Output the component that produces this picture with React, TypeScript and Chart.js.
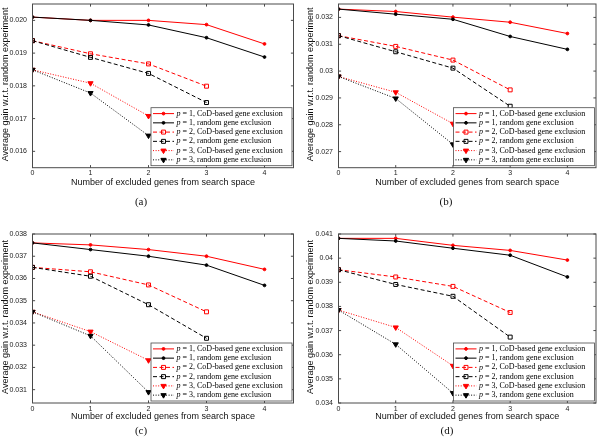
import React, { useEffect, useRef } from 'react';
import { Chart, registerables } from 'chart.js';

Chart.register(...registerables);

// ---------------- data ----------------
const xValues = [0, 1, 2, 3, 4];
const xTickValues = [0, 1, 2, 3, 4];
const xTickLabels = ['0', '1', '2', '3', '4'];
const xTitle = 'Number of excluded genes from search space';
const yTitle = 'Average gain w.r.t. random experiment';
const legendLabels = [
  'p = 1, CoD-based gene exclusion',
  'p = 1, random gene exclusion',
  'p = 2, CoD-based gene exclusion',
  'p = 2, random gene exclusion',
  'p = 3, CoD-based gene exclusion',
  'p = 3, random gene exclusion',
];
const captions = ['(a)', '(b)', '(c)', '(d)'];

// panel (a)
const aP1Cod = [0.0201, 0.0200, 0.0200, 0.01987, 0.01928];
const aP1Rand = [0.0201, 0.0200, 0.01986, 0.01947, 0.01888];
const aP2Cod = [0.01938, 0.01898, 0.01867, 0.01799];
const aP2Rand = [0.01938, 0.01887, 0.01838, 0.01749];
const aP3Cod = [0.01849, 0.01808, 0.01708];
const aP3Rand = [0.01849, 0.01778, 0.01648];
const aYTicks = [0.016, 0.017, 0.018, 0.019, 0.020];
const aYLabels = ['0.016', '0.017', '0.018', '0.019', '0.020'];

// panel (b)
const bP1Cod = [0.03231, 0.03222, 0.03201, 0.03182, 0.0314];
const bP1Rand = [0.03231, 0.03212, 0.03193, 0.03129, 0.03081];
const bP2Cod = [0.03132, 0.03092, 0.03041, 0.0293];
const bP2Rand = [0.03132, 0.03072, 0.03011, 0.02869];
const bP3Cod = [0.0298, 0.02921, 0.02804];
const bP3Rand = [0.0298, 0.02898, 0.02727];
const bYTicks = [0.027, 0.028, 0.029, 0.030, 0.031, 0.032];
const bYLabels = ['0.027', '0.028', '0.029', '0.03', '0.031', '0.032'];

// panel (c)
const cP1Cod = [0.0376, 0.03751, 0.0373, 0.0370, 0.03641];
const cP1Rand = [0.0376, 0.0373, 0.0370, 0.0366, 0.03569];
const cP2Cod = [0.0365, 0.0363, 0.03571, 0.0345];
const cP2Rand = [0.0365, 0.0361, 0.03482, 0.03331];
const cP3Cod = [0.0345, 0.03361, 0.03232];
const cP3Rand = [0.0345, 0.03342, 0.03089];
const cYTicks = [0.031, 0.032, 0.033, 0.034, 0.035, 0.036, 0.037, 0.038];
const cYLabels = ['0.031', '0.032', '0.033', '0.034', '0.035', '0.036', '0.037', '0.038'];

// panel (d)
const dP1Cod = [0.04082, 0.04082, 0.04053, 0.04032, 0.03992];
const dP1Rand = [0.04082, 0.04071, 0.04041, 0.04012, 0.03922];
const dP2Cod = [0.03952, 0.03922, 0.03883, 0.03775];
const dP2Rand = [0.03952, 0.03891, 0.03842, 0.03673];
const dP3Cod = [0.03785, 0.03713, 0.03554];
const dP3Rand = [0.03785, 0.03643, 0.03441];
const dYTicks = [0.034, 0.035, 0.036, 0.037, 0.038, 0.039, 0.040, 0.041];
const dYLabels = ['0.034', '0.035', '0.036', '0.037', '0.038', '0.039', '0.04', '0.041'];

// ---------------- styles / layout ----------------
const SANS = "'Liberation Sans', Arial, Helvetica, sans-serif";
const SERIF = "'Liberation Serif', 'Times New Roman', serif";

type SeriesStyle = {
  color: string;
  dash: number[];
  pointStyle: string;
  radius: number;
  filled: boolean;
  rotation: number;
};

const seriesStyles: SeriesStyle[] = [
  { color: '#ff0000', dash: [], pointStyle: 'circle', radius: 1.4, filled: true, rotation: 0 },
  { color: '#000000', dash: [], pointStyle: 'circle', radius: 1.4, filled: true, rotation: 0 },
  { color: '#ff0000', dash: [4, 2.5], pointStyle: 'rect', radius: 2.8, filled: false, rotation: 0 },
  { color: '#000000', dash: [4, 2.5], pointStyle: 'rect', radius: 2.8, filled: false, rotation: 0 },
  { color: '#ff0000', dash: [1, 1.6], pointStyle: 'triangle', radius: 3, filled: true, rotation: 180 },
  { color: '#000000', dash: [1, 1.6], pointStyle: 'triangle', radius: 3, filled: true, rotation: 180 },
];

type PanelCfg = {
  series: number[][];
  yMin: number;
  yMax: number;
  yTicks: number[];
  yLabels: string[];
  caption: string;
  left: number;
  top: number;
  width: number;
  height: number;
  pad: { left: number; top: number; right: number; bottom: number };
  yWidth: number;
  xHeight: number;
  yTitleX: number;
  xTitleOff: number;
  capX: number;
  capY: number;
};

const panels: PanelCfg[] = [
  {
    series: [aP1Cod, aP1Rand, aP2Cod, aP2Rand, aP3Cod, aP3Rand],
    yMin: 0.0155, yMax: 0.0205, yTicks: aYTicks, yLabels: aYLabels, caption: captions[0],
    left: 0, top: 0, width: 300, height: 220,
    pad: { left: 0, top: 0.5, right: 6.5, bottom: 0 },
    yWidth: 32.5, xHeight: 52.3, yTitleX: 5.5, xTitleOff: 15.3, capX: 141, capY: 201,
  },
  {
    series: [bP1Cod, bP1Rand, bP2Cod, bP2Rand, bP3Cod, bP3Rand],
    yMin: 0.0264, yMax: 0.0325, yTicks: bYTicks, yLabels: bYLabels, caption: captions[1],
    left: 300, top: 0, width: 300, height: 220,
    pad: { left: 0, top: 0.5, right: 0.5, bottom: 0 },
    yWidth: 38.5, xHeight: 52.3, yTitleX: 11, xTitleOff: 15.3, capX: 446, capY: 201,
  },
  {
    series: [cP1Cod, cP1Rand, cP2Cod, cP2Rand, cP3Cod, cP3Rand],
    yMin: 0.0304, yMax: 0.038, yTicks: cYTicks, yLabels: cYLabels, caption: captions[2],
    left: 0, top: 220, width: 300, height: 221,
    pad: { left: 0, top: 14, right: 6.5, bottom: 0 },
    yWidth: 32.5, xHeight: 38, yTitleX: 5.5, xTitleOff: 14, capX: 141, capY: 430,
  },
  {
    series: [dP1Cod, dP1Rand, dP2Cod, dP2Rand, dP3Cod, dP3Rand],
    yMin: 0.034, yMax: 0.041, yTicks: dYTicks, yLabels: dYLabels, caption: captions[3],
    left: 300, top: 220, width: 300, height: 221,
    pad: { left: 0, top: 14, right: 0.5, bottom: 0 },
    yWidth: 38.5, xHeight: 38, yTitleX: 11, xTitleOff: 14, capX: 447, capY: 430,
  },
];

// ---------------- plugins ----------------
function drawMarker(ctx: CanvasRenderingContext2D, st: SeriesStyle, x: number, y: number) {
  ctx.save();
  ctx.setLineDash([]);
  ctx.lineWidth = 1;
  ctx.strokeStyle = st.color;
  ctx.fillStyle = st.color;
  ctx.beginPath();
  if (st.pointStyle === 'circle') {
    ctx.arc(x, y, st.radius, 0, Math.PI * 2);
  } else if (st.pointStyle === 'rect') {
    const s = Math.SQRT1_2 * st.radius;
    ctx.rect(x - s, y - s, 2 * s, 2 * s);
  } else {
    const r = st.radius;
    ctx.moveTo(x, y + r);
    ctx.lineTo(x - r * 0.866, y - r * 0.5);
    ctx.lineTo(x + r * 0.866, y - r * 0.5);
    ctx.closePath();
  }
  if (st.filled) ctx.fill();
  ctx.stroke();
  ctx.restore();
}

const framePlugin = {
  id: 'matlabFrame',
  afterDatasetsDraw(chart: any) {
    const { ctx, chartArea } = chart;
    const cfg: PanelCfg = chart.options.plugins.matlabFrame.cfg;
    const { left, right, top, bottom } = chartArea;
    const xs = chart.scales.x;
    const ys = chart.scales.y;
    const tl = 2.6;
    ctx.save();
    ctx.setLineDash([]);
    ctx.strokeStyle = '#4a4a4a';
    ctx.lineWidth = 1;
    ctx.strokeRect(left, top, right - left, bottom - top);
    ctx.beginPath();
    xs.ticks.forEach((t: any) => {
      const px = xs.getPixelForValue(t.value);
      ctx.moveTo(px, bottom);
      ctx.lineTo(px, bottom - tl);
      ctx.moveTo(px, top);
      ctx.lineTo(px, top + tl);
    });
    ys.ticks.forEach((t: any) => {
      const py = ys.getPixelForValue(t.value);
      ctx.moveTo(left, py);
      ctx.lineTo(left + tl, py);
      ctx.moveTo(right, py);
      ctx.lineTo(right - tl, py);
    });
    ctx.stroke();

    // tick labels
    ctx.fillStyle = '#222';
    ctx.font = `7px ${SANS}`;
    ctx.textBaseline = 'middle';
    ctx.textAlign = 'center';
    xTickValues.forEach((v, i) => {
      ctx.fillText(xTickLabels[i], xs.getPixelForValue(v), bottom + 5.6);
    });
    ctx.textAlign = 'right';
    cfg.yTicks.forEach((v, i) => {
      ctx.fillText(cfg.yLabels[i], left - 5.5, ys.getPixelForValue(v));
    });

    // axis titles
    ctx.fillStyle = '#111';
    ctx.font = `9px ${SANS}`;
    ctx.textAlign = 'center';
    ctx.fillText(xTitle, (left + right) / 2, bottom + cfg.xTitleOff);
    ctx.save();
    ctx.translate(cfg.yTitleX, (top + bottom) / 2 - 1.5);
    ctx.rotate(-Math.PI / 2);
    ctx.fillText(yTitle, 0, 0);
    ctx.restore();
    ctx.restore();
  },
};

const legendPlugin = {
  id: 'boxLegend',
  afterDraw(chart: any) {
    const { ctx, chartArea } = chart;
    const w = 141;
    const h = 58;
    const x0 = chartArea.right - 1.5 - w;
    const y0 = chartArea.bottom - 2 - h;
    ctx.save();
    ctx.fillStyle = '#ffffff';
    ctx.fillRect(x0, y0, w, h);
    ctx.strokeStyle = '#4a4a4a';
    ctx.lineWidth = 0.8;
    ctx.setLineDash([]);
    ctx.strokeRect(x0, y0, w, h);
    legendLabels.forEach((label, i) => {
      const st = seriesStyles[i];
      const cy = y0 + 5.9 + i * 9.25;
      ctx.save();
      ctx.strokeStyle = st.color;
      ctx.lineWidth = 1;
      ctx.setLineDash(st.dash);
      ctx.beginPath();
      ctx.moveTo(x0 + 2, cy);
      ctx.lineTo(x0 + 23, cy);
      ctx.stroke();
      ctx.restore();
      drawMarker(ctx, st, x0 + 12.5, cy);
      ctx.fillStyle = '#000';
      ctx.textBaseline = 'middle';
      ctx.textAlign = 'left';
      ctx.font = `italic 8px ${SERIF}`;
      const first = label.charAt(0);
      ctx.fillText(first, x0 + 25.5, cy);
      const fw = ctx.measureText(first).width;
      ctx.font = `8px ${SERIF}`;
      ctx.fillText(label.slice(1), x0 + 25.5 + fw, cy);
    });
    ctx.restore();
  },
};

function zeroPad(s: any) {
  s.paddingTop = 0;
  s.paddingBottom = 0;
  s.paddingLeft = 0;
  s.paddingRight = 0;
}

// ---------------- components ----------------
function Panel({ cfg }: { cfg: PanelCfg }) {
  const ref = useRef<HTMLCanvasElement | null>(null);
  useEffect(() => {
    if (!ref.current) return;
    const datasets = cfg.series.map((vals, i) => {
      const st = seriesStyles[i];
      return {
        label: legendLabels[i],
        data: vals.map((y, j) => ({ x: xValues[j], y })),
        borderColor: st.color,
        backgroundColor: st.color,
        borderWidth: 1,
        borderDash: st.dash,
        pointStyle: st.pointStyle,
        pointRadius: st.radius,
        pointHoverRadius: st.radius,
        pointBackgroundColor: st.filled ? st.color : 'rgba(255,255,255,0)',
        pointBorderColor: st.color,
        pointBorderWidth: 1,
        pointRotation: st.rotation,
        tension: 0,
        fill: false,
        order: 6 - i,
      };
    });
    const chart = new Chart(ref.current, {
      type: 'line',
      data: { datasets } as any,
      options: {
        responsive: false,
        maintainAspectRatio: false,
        animation: false,
        devicePixelRatio: 1,
        layout: { padding: cfg.pad },
        plugins: {
          legend: { display: false },
          tooltip: { enabled: false },
          matlabFrame: { cfg },
        },
        scales: {
          x: {
            type: 'linear',
            min: 0,
            max: 4.5,
            grid: { display: false },
            border: { display: false },
            afterBuildTicks: (s: any) => {
              s.ticks = xTickValues.map((v) => ({ value: v }));
            },
            afterFit: (s: any) => {
              s.height = cfg.xHeight;
              zeroPad(s);
            },
            ticks: { display: false },
            title: { display: false },
          },
          y: {
            type: 'linear',
            min: cfg.yMin,
            max: cfg.yMax,
            grid: { display: false },
            border: { display: false },
            afterBuildTicks: (s: any) => {
              s.ticks = cfg.yTicks.map((v) => ({ value: v }));
            },
            afterFit: (s: any) => {
              s.width = cfg.yWidth;
              zeroPad(s);
            },
            ticks: { display: false },
            title: { display: false },
          },
        },
      } as any,
      plugins: [framePlugin, legendPlugin],
    });
    return () => chart.destroy();
  }, [cfg]);
  return (
    <canvas
      ref={ref}
      width={cfg.width}
      height={cfg.height}
      style={{ position: 'absolute', left: cfg.left, top: cfg.top, width: cfg.width, height: cfg.height }}
    />
  );
}

export default function App() {
  return (
    <div style={{ position: 'fixed', left: 0, top: 0, width: 600, height: 441, background: '#fff', overflow: 'hidden' }}>
      {panels.map((p, i) => (
        <Panel key={i} cfg={p} />
      ))}
      {panels.map((p, i) => (
        <div
          key={'c' + i}
          style={{
            position: 'absolute',
            left: p.capX,
            top: p.capY,
            transform: 'translate(-50%, -50%)',
            fontFamily: SERIF,
            fontSize: 11,
            color: '#111',
            whiteSpace: 'nowrap',
            lineHeight: 1,
          }}
        >
          {p.caption}
        </div>
      ))}
    </div>
  );
}
